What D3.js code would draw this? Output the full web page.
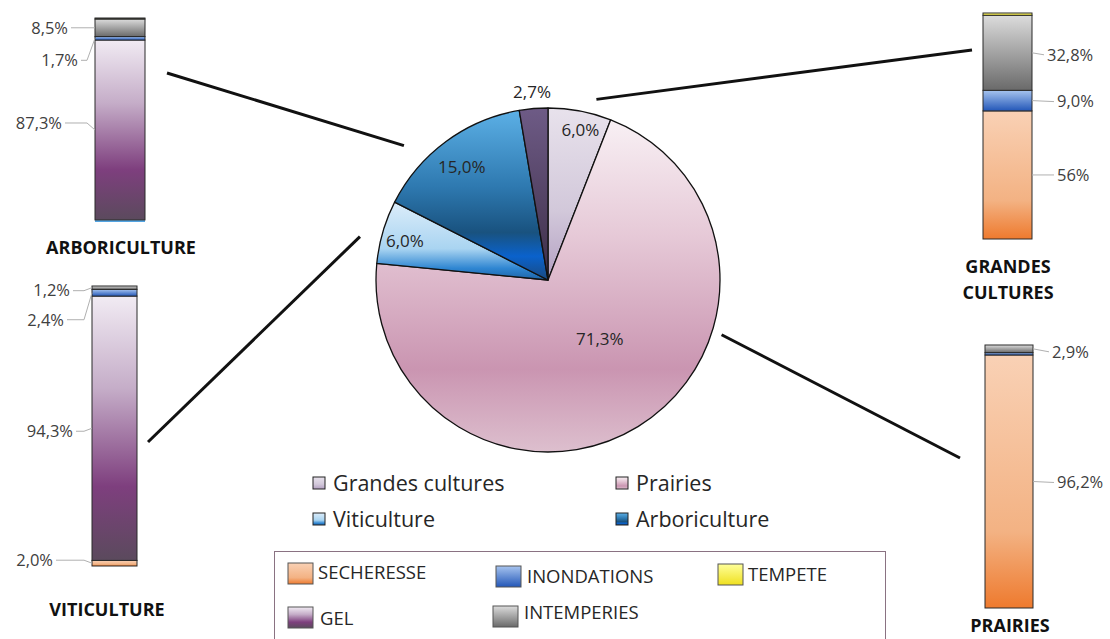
<!DOCTYPE html>
<html>
<head>
<meta charset="utf-8">
<script src="https://cdn.jsdelivr.net/npm/d3@7"></script>
<style>
body { margin: 0; background: #fff; }
text { font-family: "Open Sans", Lato, sans-serif; }
</style>
</head>
<body>
<svg id="chart" width="1110" height="639"></svg>
<script>
// --- pie data (clockwise from 12 o'clock)
var pieCategories = ["Grandes cultures", "Prairies", "Viticulture", "Arboriculture", "Autres"];
var pieValues = [6.0, 71.3, 6.0, 15.0, 2.7];
var pieLabels = ["6,0%", "71,3%", "6,0%", "15,0%", "2,7%"];
var pieLegend = ["Grandes cultures", "Prairies", "Viticulture", "Arboriculture"];

// --- hazard types
var hazards = ["SECHERESSE", "INONDATIONS", "TEMPETE", "GEL", "INTEMPERIES"];

// --- stacked bars, listed bottom -> top
var arboHazards = ["INONDATIONS", "GEL", "INONDATIONS", "INTEMPERIES", "TEMPETE"];
var arboValues = [1.0, 87.3, 1.7, 8.5, 0.5];
var arboLabels = ["", "87,3%", "1,7%", "8,5%", ""];

var vitiHazards = ["SECHERESSE", "GEL", "INONDATIONS", "INTEMPERIES"];
var vitiValues = [2.0, 94.3, 2.4, 1.2];
var vitiLabels = ["2,0%", "94,3%", "2,4%", "1,2%"];

var gcHazards = ["SECHERESSE", "INONDATIONS", "INTEMPERIES", "TEMPETE"];
var gcValues = [56, 9.0, 32.8, 1.0];
var gcLabels = ["56%", "9,0%", "32,8%", ""];

var prHazards = ["SECHERESSE", "INONDATIONS", "INTEMPERIES"];
var prValues = [96.2, 0.9, 2.9];
var prLabels = ["96,2%", "", "2,9%"];

var svg = d3.select("#chart");
var defs = svg.append("defs");

function grad(id, stops) {
  var g = defs.append("linearGradient").attr("id", id)
    .attr("x1", 0).attr("y1", 0).attr("x2", 0).attr("y2", 1);
  stops.forEach(function(s) {
    g.append("stop").attr("offset", s[0]).attr("stop-color", s[1]);
  });
}

// slice gradients
grad("p0", [[0, "#e8e2ec"], [0.6, "#d2c8da"], [1, "#b3a0c2"]]);
grad("p1", [[0, "#f8f0f4"], [0.35, "#e6c9d7"], [0.75, "#ca95b1"], [1, "#ddbfce"]]);
grad("p2", [[0, "#dcedfa"], [0.6, "#a9d4f1"], [0.85, "#2f86d2"], [1, "#1d63a6"]]);
grad("p3", [[0, "#5cb0e6"], [0.45, "#2e79b0"], [0.72, "#19527f"], [0.86, "#0a62cc"], [1, "#1a4a80"]]);
grad("p4", [[0, "#6e5b86"], [1, "#3d2e48"]]);

// hazard gradients
var hazardGrad = {
  "SECHERESSE": [[0, "#f9d1b5"], [0.7, "#f3b283"], [1, "#ee7a2e"]],
  "INONDATIONS": [[0, "#a7c4ef"], [1, "#2357b8"]],
  "TEMPETE": [[0, "#ffff9a"], [1, "#efe01f"]],
  "GEL": [[0, "#f1ebf3"], [0.35, "#c5adc8"], [0.72, "#7e3f7e"], [1, "#5b4a5d"]],
  "INTEMPERIES": [[0, "#dcdcdc"], [1, "#6a6a6a"]]
};
hazards.forEach(function(h, i) { grad("h" + i, hazardGrad[h]); });
grad("hArboBase", [[0, "#6fb6ea"], [1, "#4a9ee0"]]);

// ---------- pie ----------
var cx = 548, cy = 280, R = 172;
var pie = d3.pie().sort(null).value(function(d) { return d; });
var arcs = pie(pieValues);
var arc = d3.arc().innerRadius(0).outerRadius(R);

var gPie = svg.append("g").attr("transform", "translate(" + cx + "," + cy + ")");
gPie.selectAll("path.slice").data(arcs).enter().append("path")
  .attr("class", "slice")
  .attr("d", arc)
  .attr("fill", function(d, i) { return "url(#p" + i + ")"; })
  .attr("stroke", "#111")
  .attr("stroke-width", 1.3)
  .attr("stroke-linejoin", "round");

// label radius & nudge per slice
var labelR = [153, 76, 148, 142, 190];
var labelNudge = [[4, 0], [12, -6], [-1, 2], [-2, 1], [0, 1]];
gPie.selectAll("text.pl").data(arcs).enter().append("text")
  .attr("class", "pl")
  .attr("x", function(d, i) {
    var a = (d.startAngle + d.endAngle) / 2;
    return Math.sin(a) * labelR[i] + labelNudge[i][0];
  })
  .attr("y", function(d, i) {
    var a = (d.startAngle + d.endAngle) / 2;
    return -Math.cos(a) * labelR[i] + labelNudge[i][1];
  })
  .attr("dy", "0.35em")
  .attr("text-anchor", "middle")
  .attr("font-size", 17)
  .attr("fill", "#262626")
  .text(function(d, i) { return pieLabels[i]; });

// ---------- stacked bars ----------
var bars = [
  { hz: arboHazards, v: arboValues, lb: arboLabels, x: 95, w: 50, top: 18, bottom: 222, side: "left",
    ldx: [0, 33, 17, 27, 0], ldy: [0, -7, 22, 0, 0], title: ["ARBORICULTURE"], tx: 121, ty: 248 },
  { hz: vitiHazards, v: vitiValues, lb: vitiLabels, x: 92, w: 45, top: 286, bottom: 566, side: "left",
    ldx: [39, 19, 28, 22], ldy: [-3, 3, 27, 3], title: ["VITICULTURE"], tx: 107, ty: 610 },
  { hz: gcHazards, v: gcValues, lb: gcLabels, x: 983, w: 49, top: 13, bottom: 239, side: "right",
    ldx: [25, 25, 15, 0], ldy: [0, 1, 2, 0], title: ["GRANDES", "CULTURES"], tx: 1008, ty: 267 },
  { hz: prHazards, v: prValues, lb: prLabels, x: 985, w: 48, top: 345, bottom: 608, side: "right",
    ldx: [24, 0, 19], ldy: [1, 0, 3], title: ["PRAIRIES"], tx: 1010, ty: 626 }
];

bars.forEach(function(b, bi) {
  var total = d3.sum(b.v);
  var y = d3.scaleLinear().domain([0, total]).range([b.bottom, b.top]);
  var segs = [];
  var acc = 0;
  b.v.forEach(function(val, i) {
    segs.push({ h: b.hz[i], y0: acc, y1: acc + val, label: b.lb[i], dx: b.ldx[i], dy: b.ldy[i], i: i });
    acc += val;
  });
  var g = svg.append("g");
  g.selectAll("rect").data(segs).enter().append("rect")
    .attr("x", b.x)
    .attr("width", b.w)
    .attr("y", function(d) { return y(d.y1); })
    .attr("height", function(d) { return y(d.y0) - y(d.y1); })
    .attr("fill", function(d) {
      if (bi === 0 && d.i === 0) return "url(#hArboBase)";
      return "url(#h" + hazards.indexOf(d.h) + ")";
    })
    .attr("stroke", function(d) { return (bi === 0 && d.i === 0) ? "none" : "#2a2a2a"; })
    .attr("stroke-width", 1);

  var lab = segs.filter(function(d) { return d.label !== ""; });
  lab.forEach(function(d) {
    var mid = y((d.y0 + d.y1) / 2);
    var ly = mid + d.dy;
    var tx, pts;
    if (b.side === "left") {
      tx = b.x - d.dx;
      pts = [[tx + 3, ly], [Math.max(tx + 3, b.x - 8), ly], [b.x, mid]];
    } else {
      tx = b.x + b.w + d.dx;
      pts = [[b.x + b.w, mid], [tx - 3, ly]];
    }
    g.append("path")
      .attr("d", d3.line()(pts))
      .attr("fill", "none")
      .attr("stroke", "#b0b0b0")
      .attr("stroke-width", 1);
    g.append("text")
      .attr("x", tx)
      .attr("y", ly)
      .attr("dy", "0.35em")
      .attr("text-anchor", b.side === "left" ? "end" : "start")
      .attr("font-size", 16.5)
      .attr("fill", "#404040")
      .text(d.label);
  });

  b.title.forEach(function(t, k) {
    g.append("text")
      .attr("x", b.tx)
      .attr("y", b.ty + k * 26)
      .attr("dy", "0.35em")
      .attr("text-anchor", "middle")
      .attr("font-size", 18)
      .attr("font-weight", "bold")
      .attr("fill", "#111")
      .text(t);
  });
});

// ---------- connectors (pie -> bars) ----------
var connectors = [
  { a: 313, r: 197, to: [167, 73] },
  { a: 283, r: 193, to: [148, 442] },
  { a: 15, r: 187, to: [972, 50] },
  { a: 107.5, r: 182, to: [960, 458] }
];
connectors.forEach(function(c) {
  var p = d3.pointRadial(c.a * Math.PI / 180, c.r);
  svg.append("line")
    .attr("x1", cx + p[0]).attr("y1", cy + p[1])
    .attr("x2", c.to[0]).attr("y2", c.to[1])
    .attr("stroke", "#111").attr("stroke-width", 3);
});

// ---------- pie legend ----------
var lg = svg.append("g");
pieLegend.forEach(function(name, i) {
  var col = i % 2, row = Math.floor(i / 2);
  var x = 313 + col * 303, yy = 483 + row * 36;
  var idx = pieCategories.indexOf(name);
  lg.append("rect").attr("x", x).attr("y", yy - 6).attr("width", 12).attr("height", 12)
    .attr("fill", "url(#p" + idx + ")").attr("stroke", "#222").attr("stroke-width", 1);
  lg.append("text").attr("x", x + 20).attr("y", yy).attr("dy", "0.35em")
    .attr("font-size", 21.5).attr("fill", "#262626").text(name);
});

// ---------- hazard legend ----------
svg.append("rect").attr("x", 274.5).attr("y", 551.5).attr("width", 611).attr("height", 110)
  .attr("fill", "#fff").attr("stroke", "#8a7282").attr("stroke-width", 1);
var hzPos = [[288, 563, 318, 573], [496, 566, 527, 577], [718, 564, 748, 575], [288, 607, 320, 619], [493, 606, 524, 613]];
hazards.forEach(function(h, i) {
  var p = hzPos[i];
  svg.append("rect").attr("x", p[0]).attr("y", p[1]).attr("width", 25).attr("height", 21)
    .attr("fill", "url(#h" + i + ")").attr("stroke", "#555").attr("stroke-width", 1);
  svg.append("text").attr("x", p[2]).attr("y", p[3]).attr("dy", "0.35em")
    .attr("font-size", 18.5).attr("fill", "#262626").text(h);
});
</script>
</body>
</html>
